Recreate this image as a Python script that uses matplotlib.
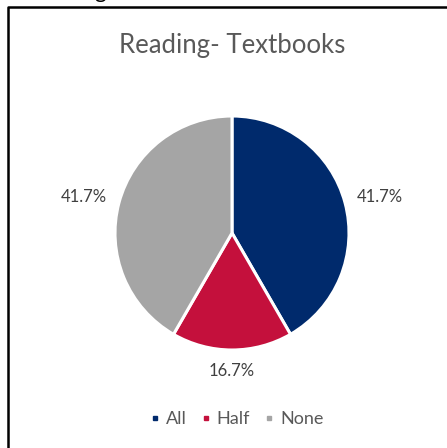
import matplotlib.pyplot as plt
import numpy as np
from matplotlib.lines import Line2D

# answers for the textbook reading question
categories = ['All', 'Half', 'None']
counts = [5, 2, 5]
colors = ['#002A6C', '#C4103C', '#A5A5A5']

W, H = 447, 448
fig = plt.figure(figsize=(W / 100, H / 100), dpi=100)
plt.rcParams['font.family'] = ['Lato', 'DejaVu Sans']

# pie centre and radius in pixels
cx, cy, r = 232, 233, 117
ax = fig.add_axes([(cx - r) / W, (H - cy - r) / H, 2 * r / W, 2 * r / H])

wedges, _ = ax.pie(counts, colors=colors, startangle=90, counterclock=False,
                   radius=1.0, wedgeprops=dict(edgecolor='white', linewidth=2.2))
# pie() resets the limits, so set them afterwards
ax.set_xlim(-1, 1)
ax.set_ylim(-1, 1)
ax.set_aspect('equal')
ax.axis('off')

total = float(sum(counts))
for w, c in zip(wedges, counts):
    mid = np.deg2rad((w.theta1 + w.theta2) / 2)
    # outside-end label: edge point plus a gap sized by the text box
    x = np.cos(mid) * (1 + 36 / r)
    y = np.sin(mid) * (1 + 21 / r)
    ax.text(x, y, '%.1f%%' % (100 * c / total),
            ha='center', va='center', fontsize=12, color='#404040', clip_on=False)

fig.text(cx / W, 1 - 46 / H, 'Reading- Textbooks', ha='center', va='center',
         fontsize=18.5, color='#595959')

# legend
handles = [plt.Line2D([], [], marker='s', linestyle='', markersize=3.2,
                      markerfacecolor=col, markeredgecolor=col) for col in colors]
fig.legend(handles, categories, loc='center', bbox_to_anchor=(237 / W, 1 - 419 / H),
           ncol=3, frameon=False, fontsize=13, handlelength=0.5, handletextpad=0.35,
           columnspacing=0.8, labelcolor='#595959')

# chart box edge (left and top)
fig.add_artist(Line2D([7.5 / W, 7.5 / W, 1.0], [0.0, 1 - 7.5 / H, 1 - 7.5 / H],
                      color='black', linewidth=1.8))
# tail of the text above the chart
fig.text(100 / W, 1 + 2 / H, 'g', ha='center', va='baseline', fontsize=16, color='black')

fig.savefig('out.png', dpi=100)
